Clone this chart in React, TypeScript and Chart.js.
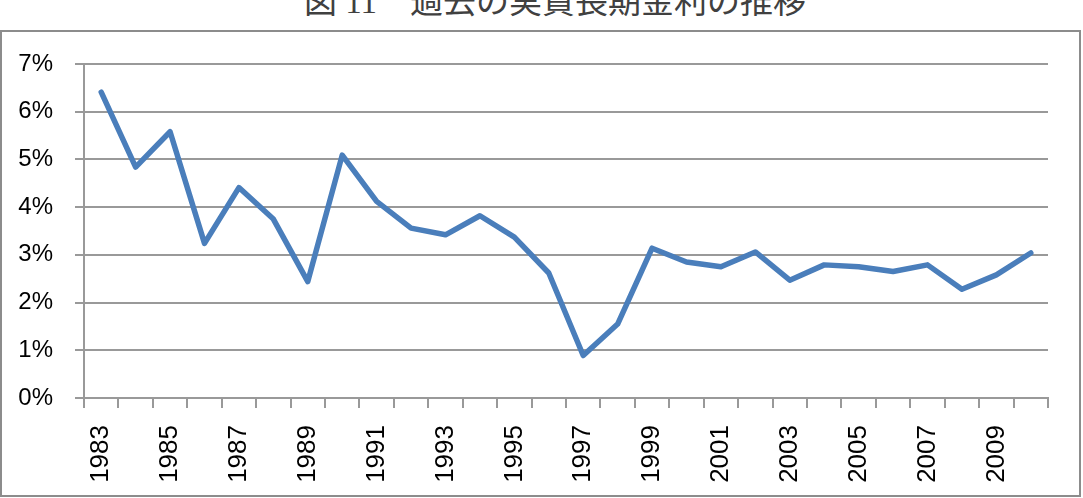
import React, { useEffect, useRef } from "react";
import { Chart, registerables } from "chart.js";

Chart.register(...registerables);

const years: string[] = [
  "1983", "1984", "1985", "1986", "1987", "1988", "1989", "1990", "1991", "1992",
  "1993", "1994", "1995", "1996", "1997", "1998", "1999", "2000", "2001", "2002",
  "2003", "2004", "2005", "2006", "2007", "2008", "2009", "2010",
];

const realRate: number[] = [
  6.41, 4.84, 5.58, 3.24, 4.41, 3.75, 2.44, 5.09, 4.12, 3.56,
  3.42, 3.82, 3.37, 2.62, 0.89, 1.55, 3.14, 2.85, 2.75, 3.06,
  2.47, 2.79, 2.75, 2.65, 2.79, 2.28, 2.58, 3.04,
];

const yTicks: number[] = [0, 1, 2, 3, 4, 5, 6, 7];

const titleText = "図 11\u3000過去の実質長期金利の推移";

export default function App() {
  const ref = useRef<HTMLCanvasElement | null>(null);

  useEffect(() => {
    if (!ref.current) return;
    const chart = new Chart(ref.current, {
      type: "line",
      data: {
        labels: years,
        datasets: [
          {
            data: realRate,
            borderColor: "#4a7ebb",
            backgroundColor: "#4a7ebb",
            borderWidth: 5.5,
            pointRadius: 0,
            tension: 0,
            borderJoinStyle: "round",
            borderCapStyle: "round",
          },
        ],
      },
      options: {
        responsive: false,
        animation: false,
        devicePixelRatio: 1,
        layout: { padding: { left: 0, right: 35, top: 32, bottom: 0 } },
        plugins: {
          legend: { display: false },
          tooltip: { enabled: false },
          title: { display: false },
        },
        scales: {
          x: {
            offset: true,
            grid: {
              offset: true,
              drawOnChartArea: false,
              drawTicks: true,
              tickLength: 10,
              color: "#999999",
              lineWidth: 2,
            },
            border: { display: true, color: "#999999", width: 2 },
            ticks: {
              autoSkip: false,
              minRotation: 90,
              maxRotation: 90,
              padding: 17,
              color: "#000000",
              font: { family: "'Liberation Sans', Arial, sans-serif", size: 26 },
              callback: (_v: any, i: number) => (i % 2 === 0 ? years[i] : ""),
            },
            afterFit: (s: any) => {
              s.height = 100;
              s.paddingLeft = 0;
              s.paddingRight = 0;
            },
          },
          y: {
            min: 0,
            max: 7,
            afterBuildTicks: (s: any) => {
              s.ticks = yTicks.map((v) => ({ value: v }));
            },
            grid: {
              color: "#999999",
              lineWidth: 2,
              tickLength: 9,
              drawTicks: true,
            },
            border: { display: true, color: "#999999", width: 2 },
            ticks: {
              padding: 22,
              color: "#000000",
              font: { family: "'Liberation Sans', Arial, sans-serif", size: 24 },
              callback: (v: any) => `${v}%`,
            },
            afterFit: (s: any) => {
              s.width = 84;
              s.paddingTop = 0;
              s.paddingBottom = 0;
            },
          },
        },
      },
    });
    return () => chart.destroy();
  }, []);

  return (
    <div
      style={{
        position: "absolute",
        left: 0,
        top: 0,
        width: 1083,
        height: 498,
        background: "#ffffff",
        overflow: "hidden",
      }}
    >
      <div
        style={{
          position: "absolute",
          left: 0,
          top: -14,
          width: 1110,
          height: 33,
          lineHeight: "33px",
          textAlign: "center",
          fontSize: 33,
          color: "#404040",
          fontFamily: "'Liberation Serif', 'Noto Sans CJK JP', serif",
          whiteSpace: "pre",
        }}
      >
        {titleText}
      </div>
      <div
        style={{
          position: "absolute",
          left: 0,
          top: 30,
          width: 1077,
          height: 463,
          border: "2px solid #8c8c8c",
        }}
      />
      <canvas
        ref={ref}
        width={1083}
        height={466}
        style={{ position: "absolute", left: 0, top: 32, width: 1083, height: 466 }}
      />
    </div>
  );
}
